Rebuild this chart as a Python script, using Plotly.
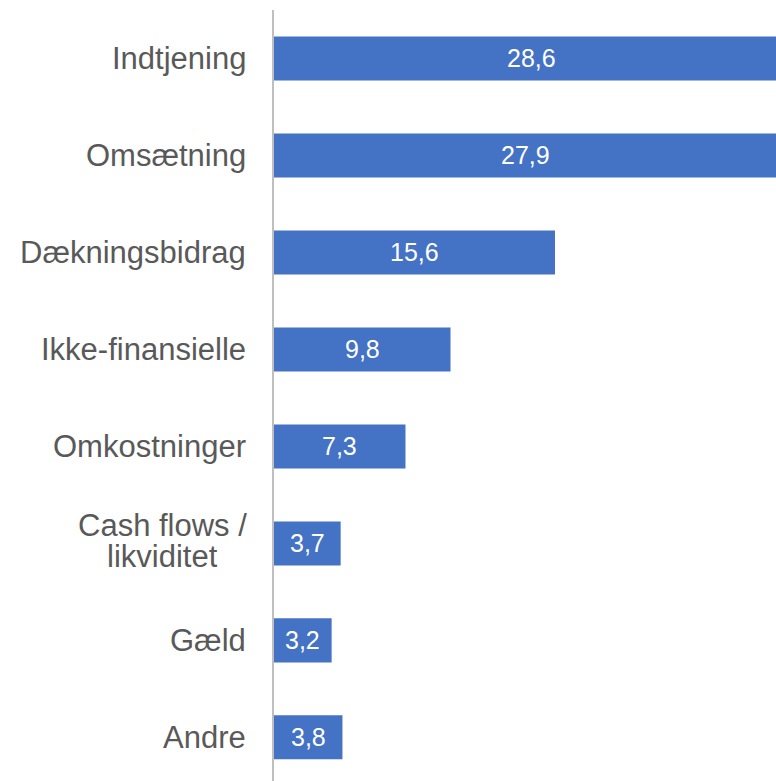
import plotly.graph_objects as go

# Category labels (each inner list is one label, split into its text lines)
label_lines = [
    ["Indtjening"],
    ["Omsætning"],
    ["Dækningsbidrag"],
    ["Ikke-finansielle"],
    ["Omkostninger"],
    ["Cash flows /", "likviditet"],
    ["Gæld"],
    ["Andre"],
]
categories = [" ".join(lines) for lines in label_lines]
values = [28.6, 27.9, 15.6, 9.8, 7.3, 3.7, 3.2, 3.8]
value_text = [f"{v:.1f}".replace(".", ",") for v in values]

BAR_COLOR = "#4472C4"
TEXT_COLOR = "#595959"
FONT = "Liberation Sans, Arial, Helvetica, sans-serif"

fig = go.Figure(
    go.Bar(
        x=values,
        y=categories,
        orientation="h",
        marker=dict(color=BAR_COLOR, line=dict(width=0)),
        hoverinfo="skip",
    )
)

annotations = []
# Value labels centred on each bar
for cat, v, t in zip(categories, values, value_text):
    annotations.append(
        dict(
            x=v / 2, y=cat, xref="x", yref="y", text=t, showarrow=False,
            font=dict(family=FONT, size=25, color="white"),
            xanchor="center", yanchor="middle",
        )
    )

# Category labels, drawn line by line so the lines sit close together and centred
LINE_GAP = 31
for cat, lines in zip(categories, label_lines):
    n = len(lines)
    for i, line in enumerate(lines):
        offset = ((n - 1) / 2 - i) * LINE_GAP + (3 if n > 1 else 0)
        annotations.append(
            dict(
                x=0, y=cat, xref="paper", yref="y", text=line, showarrow=False,
                font=dict(family=FONT, size=31, color=TEXT_COLOR),
                xanchor="center" if n > 1 else "right", yanchor="middle",
                xshift=(-26 - 86) if n > 1 else -26,
                yshift=offset,
                height=30 if n > 1 else None,
                valign="middle",
            )
        )

fig.update_layout(
    width=776,
    height=781,
    margin=dict(l=274, r=0, t=10, b=0, pad=0),
    paper_bgcolor="white",
    plot_bgcolor="white",
    showlegend=False,
    bargap=0.546,
    annotations=annotations,
    xaxis=dict(
        range=[0, 27.87],
        showgrid=False, zeroline=False, showline=False,
        showticklabels=False, ticks="",
    ),
    yaxis=dict(
        categoryorder="array",
        categoryarray=categories,
        range=[7.45, -0.5],
        showgrid=False, zeroline=False,
        showline=True, linecolor="#BFBFBF", linewidth=1.5,
        showticklabels=False, ticks="",
    ),
)

fig.write_html("out.html")
